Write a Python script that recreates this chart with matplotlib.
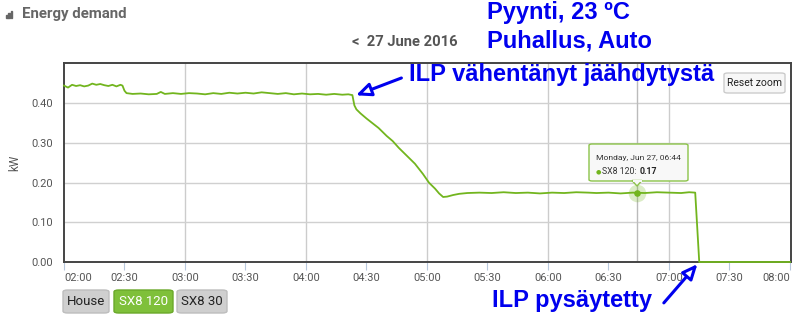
import matplotlib
matplotlib.use("Agg")
import matplotlib.pyplot as plt
from matplotlib.patches import FancyBboxPatch, Rectangle, Polygon

# minutes after 02:00 and power (kW) for SX8 120
t_min = [0, 2, 4, 6, 8, 10, 12, 14, 16, 18, 20, 22, 24, 26, 28, 29,
         30, 31, 34, 38, 42, 46, 48, 50, 54, 58, 62, 66, 70, 74, 78, 82,
         86, 90, 94, 98, 102, 106, 110, 114, 118, 122, 126, 130, 134, 138,
         141, 143, 144, 145, 147, 150, 153, 156, 160, 163, 166, 170, 174,
         178, 181, 184, 186, 188, 190, 193, 196, 200, 206, 212, 218, 224,
         230, 236, 242, 248, 254, 260, 264, 270, 276, 282, 288, 294, 300,
         306, 310, 313, 315, 320, 330, 340, 350, 360]
kw = [0.445, 0.440, 0.447, 0.444, 0.446, 0.443, 0.445, 0.450, 0.447, 0.449,
      0.446, 0.444, 0.447, 0.443, 0.447, 0.445,
      0.432, 0.426, 0.424, 0.425, 0.423, 0.424, 0.429, 0.424, 0.426, 0.424,
      0.426, 0.425, 0.423, 0.426, 0.424, 0.427, 0.425, 0.427, 0.425, 0.428,
      0.426, 0.424, 0.426, 0.423, 0.425, 0.423, 0.424, 0.422, 0.424, 0.422,
      0.423, 0.421, 0.395, 0.385, 0.375, 0.362, 0.350, 0.338, 0.318, 0.305,
      0.288, 0.268, 0.248, 0.222, 0.200, 0.185, 0.173, 0.164, 0.165, 0.169,
      0.172, 0.174, 0.175, 0.174, 0.176, 0.174, 0.175, 0.173, 0.175, 0.174,
      0.176, 0.175, 0.174, 0.175, 0.173, 0.175, 0.174, 0.176, 0.175, 0.174,
      0.176, 0.175, 0.0, 0.0, 0.0, 0.0, 0.0, 0.0]

tick_minutes = [0, 30, 60, 90, 120, 150, 180, 210, 240, 270, 300, 330, 360]
tick_labels = ["02:00", "02:30", "03:00", "03:30", "04:00", "04:30", "05:00",
               "05:30", "06:00", "06:30", "07:00", "07:30", "08:00"]
y_ticks = [0.0, 0.1, 0.2, 0.3, 0.4]
hover_min = 284
hover_kw = 0.174
buttons = ["House", "SX8 120", "SX8 30"]

W, H = 800, 320
green = "#72b51e"
blue = "#0000ee"

fig = plt.figure(figsize=(W / 100, H / 100), dpi=100)
fig.patch.set_facecolor("white")


def fx(x):
    return x / W


def fy(y):
    return 1 - y / H


ax = fig.add_axes([fx(64), fy(262), fx(791) - fx(64), fy(63) - fy(262)])
ax.set_xlim(0, 360.5)
ax.set_ylim(0, 0.502)

for v in [60, 120, 180, 240, 300]:
    ax.axvline(v, color="#cccccc", lw=1, zorder=0)
for v in [0.1, 0.2, 0.3, 0.4]:
    ax.axhline(v, color="#d0d0d0", lw=1, zorder=0)
ax.axvline(hover_min, color="#bbbbbb", lw=1, zorder=1)

ax.plot(t_min, kw, color=green, lw=1.3, zorder=3, clip_on=False)
ax.scatter([hover_min], [hover_kw], s=160, color=green, alpha=0.25, lw=0, zorder=4)
ax.scatter([hover_min], [hover_kw], s=14, color=green, zorder=5)

ax.set_xticks(tick_minutes)
ax.set_xticklabels(tick_labels)
ax.set_yticks(y_ticks)
ax.set_yticklabels(["%.2f" % v for v in y_ticks])
ax.tick_params(axis="x", length=6, color="#b8c8dc", labelsize=8, labelcolor="#555555", pad=2)
ax.tick_params(axis="y", length=0, labelsize=8, labelcolor="#555555", pad=8)
for lab in ax.get_xticklabels() + ax.get_yticklabels():
    lab.set_family("Roboto")
xl = ax.get_xticklabels()
xl[0].set_ha("left")
xl[-1].set_ha("right")
ax.set_ylabel("kW", fontsize=8.5, color="#555555", family="Roboto")
ax.yaxis.set_label_coords((21 - 64) / 727, 0.5)
for s in ax.spines.values():
    s.set_color("#444444")
    s.set_linewidth(1.4)

# header
fig.text(fx(22), fy(14), "Energy demand", fontsize=10.8, fontweight="bold",
         color="#666666", family="Roboto", va="center")
for i, h in enumerate([3, 5, 7]):
    fig.patches.append(Rectangle((fx(6 + i * 2.3), fy(18)), 1.6 / W, h / H,
                                 transform=fig.transFigure, color="#666666"))
fig.text(fx(352), fy(42), "<  27 June 2016", fontsize=10.6, fontweight="bold",
         color="#555555", family="Roboto", va="center")

# blue annotations
fs = 17
fig.text(fx(487), fy(13), "Pyynti, 23 ºC", fontsize=fs, fontweight="bold",
         color=blue, family="Liberation Sans", va="center")
fig.text(fx(487), fy(41), "Puhallus, Auto", fontsize=fs, fontweight="bold",
         color=blue, family="Liberation Sans", va="center")
fig.text(fx(409), fy(75), "ILP vähentänyt jäähdytystä", fontsize=fs, fontweight="bold",
         color=blue, family="Liberation Sans", va="center")
fig.text(fx(492), fy(300), "ILP pysäytetty", fontsize=fs, fontweight="bold",
         color=blue, family="Liberation Sans", va="center")
ax.annotate("", xy=(143.5, 0.418), xycoords="data",
            xytext=(fx(404), fy(77)), textcoords="figure fraction",
            arrowprops=dict(arrowstyle="-|>,head_length=0.9,head_width=0.4",
                            color=blue, lw=2.2, fc="white"))
ax.annotate("", xy=(315, 0.0), xycoords="data",
            xytext=(fx(662), fy(305)), textcoords="figure fraction",
            annotation_clip=False,
            arrowprops=dict(arrowstyle="-|>,head_length=0.9,head_width=0.4",
                            color=blue, lw=2.2, fc="white"))

# reset zoom button
fig.patches.append(FancyBboxPatch((fx(724), fy(93)), 61 / W, 20 / H,
                                  boxstyle="round,pad=0,rounding_size=0.005",
                                  transform=fig.transFigure, fc="#f7f7f7",
                                  ec="#cccccc", lw=1, zorder=5))
fig.text(fx(754.5), fy(83), "Reset zoom", fontsize=7.5, color="#222222",
         family="Roboto", ha="center", va="center", zorder=6)

# tooltip
fig.patches.append(FancyBboxPatch((fx(589), fy(181)), 99 / W, 37 / H,
                                  boxstyle="round,pad=0,rounding_size=0.004",
                                  transform=fig.transFigure, fc="#f8f8f8",
                                  ec="#8cc34a", lw=1, zorder=6))
fig.patches.append(Polygon([(fx(632), fy(180.5)), (fx(642), fy(180.5)), (fx(637), fy(186))],
                           closed=True, transform=fig.transFigure, fc="#f8f8f8",
                           ec="#8cc34a", lw=1, zorder=6))
fig.patches.append(Rectangle((fx(632.5), fy(181.5)), 9 / W, 2 / H,
                             transform=fig.transFigure, fc="#f8f8f8", ec="none", zorder=7))
fig.text(fx(596), fy(158), "Monday, Jun 27, 06:44", fontsize=6.1, color="#333333",
         family="Roboto", va="center", zorder=8)
fig.text(fx(596), fy(172), "●", fontsize=4.5, color=green, va="center", zorder=8)
lbl = fig.text(fx(602), fy(172), "SX8 120:", fontsize=6.3, color="#333333",
               family="Roboto", va="center", zorder=8)
fig.add_artist(plt.Annotation("0.17", xy=(1, 0.5), xycoords=lbl, xytext=(2.5, 0),
                              textcoords="offset points", fontsize=6.3, color="#222222",
                              fontweight="bold", family="Roboto", va="center", zorder=8))

# legend buttons
bx = [(63, 46), (114, 59), (177, 50)]
for name, (x0, w) in zip(buttons, bx):
    active = name == "SX8 120"
    fig.patches.append(FancyBboxPatch((fx(x0), fy(313)), w / W, 23 / H,
                                      boxstyle="round,pad=0,rounding_size=0.006",
                                      transform=fig.transFigure,
                                      fc="#7fc03a" if active else "#cfcfcf",
                                      ec="#6aa82a" if active else "#bdbdbd", lw=1))
    fig.text(fx(x0 + w / 2), fy(301.5), name, fontsize=9.5, family="Roboto",
             color="white" if active else "#222222", ha="center", va="center")

fig.savefig("out.png", dpi=100)
